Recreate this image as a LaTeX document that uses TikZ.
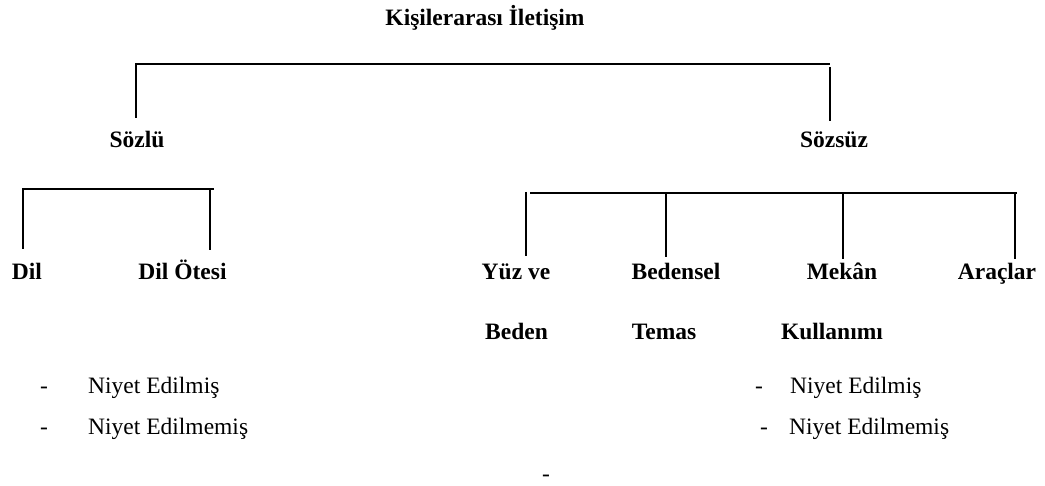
\documentclass[tikz,border=0pt]{standalone}
\usepackage{fontspec}
\setmainfont{Liberation Serif}
\tikzset{
  hd/.style={inner sep=0pt, anchor=base, font=\fontsize{23.5}{28}\selectfont\bfseries},
  item/.style={inner sep=0pt, anchor=base west, font=\fontsize{23.5}{28}\selectfont},
  bullet/.style={inner sep=0pt, anchor=base west, font=\fontsize{23.5}{28}\selectfont},
  wire/.style={draw=black, line width=1.4pt}
}
\begin{document}
\begin{tikzpicture}[x=1pt,y=-1pt]
\useasboundingbox (0,0) rectangle (1045,486);

% headings
\node[hd] (root)    at (485,26)  {Kişilerarası İletişim};
\node[hd] (sozlu)   at (137,148) {Sözlü};
\node[hd] (sozsuz)  at (834,148) {Sözsüz};

\node[hd] (dil)     at (27,280)  {Dil};
\node[hd] (dilotesi) at (182.5,280) {Dil Ötesi};

\node[hd] (yuz)     at (516,280) {Yüz ve};
\node[hd] (beden)   at (516.5,340) {Beden};
\node[hd] (bedensel) at (676,280) {Bedensel};
\node[hd] (temas)   at (664,340) {Temas};
\node[hd] (mekan)   at (842,280) {Mekân};
\node[hd] (kullanim) at (832,340) {Kullanımı};
\node[hd] (araclar) at (997,280) {Araçlar};

% lists
\node[bullet] (lda) at (40,394) {-};
\node[item]   (lia) at (88,394) {Niyet Edilmiş};
\node[bullet] (ldb) at (40,435) {-};
\node[item]   (lib) at (88,435) {Niyet Edilmemiş};

\node[bullet] (rda) at (755,394) {-};
\node[item]   (ria) at (790,394) {Niyet Edilmiş};
\node[bullet] (rdb) at (760,435) {-};
\node[item]   (rib) at (789,435) {Niyet Edilmemiş};

\node[bullet] (lone) at (542,481.5) {-};

% top bracket
\coordinate (tL)  at (136,64);
\coordinate (tR)  at (830,64);
\coordinate (sL)  at (136,118);
\coordinate (sRt) at (830,67);
\coordinate (sR)  at (830,121);
\draw[wire] (sL) -- (tL) -- (tR);
\draw[wire] (sRt) -- (sR);

% Sözlü bracket
\coordinate (aL)  at (23,189);
\coordinate (aR)  at (214,189);
\coordinate (aLb) at (23,249);
\coordinate (aRt) at (210,190);
\coordinate (aRb) at (210,250);
\draw[wire] (aLb) -- (aL) -- (aR);
\draw[wire] (aRt) -- (aRb);

% Sözsüz bracket
\coordinate (bL)  at (530,193);
\coordinate (bR)  at (1017,193);
\draw[wire] (bL) -- (bR);
\coordinate (b1t) at (526,192);  \coordinate (b1b) at (526,256);
\coordinate (b2t) at (666,193);  \coordinate (b2b) at (666,257);
\coordinate (b3t) at (843,194);  \coordinate (b3b) at (843,259);
\coordinate (b4t) at (1015,194); \coordinate (b4b) at (1015,259);
\draw[wire] (b1t) -- (b1b);
\draw[wire] (b2t) -- (b2b);
\draw[wire] (b3t) -- (b3b);
\draw[wire] (b4t) -- (b4b);
\end{tikzpicture}
\end{document}
